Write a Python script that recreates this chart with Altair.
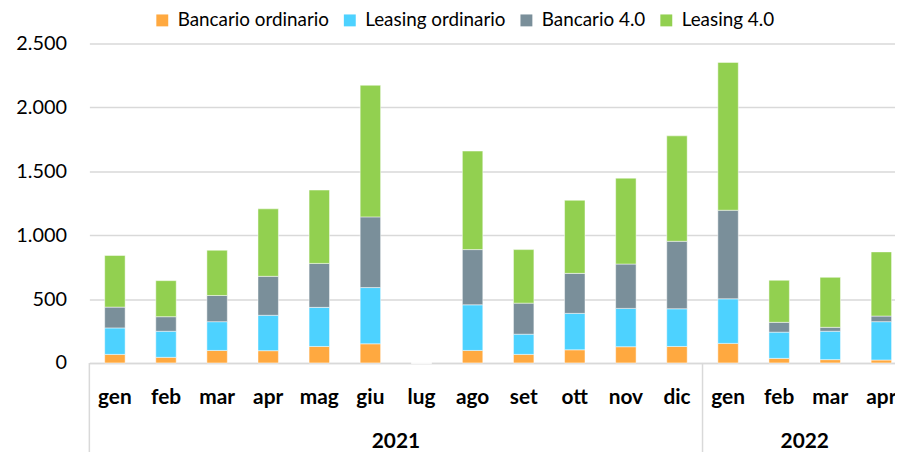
import altair as alt
import pandas as pd

# ---- data ----
months = ["gen", "feb", "mar", "apr", "mag", "giu", "lug", "ago", "set", "ott", "nov", "dic",
          "gen", "feb", "mar", "apr"]
years = [2021] * 12 + [2022] * 4
series = ["Bancario ordinario", "Leasing ordinario", "Bancario 4.0", "Leasing 4.0"]
bancario_ord = [67, 44, 98, 96, 129, 150, 0, 98, 67, 103, 127, 129, 153, 36, 26, 23]
leasing_ord = [207, 204, 225, 277, 306, 440, 0, 357, 158, 285, 300, 295, 349, 205, 222, 300]
bancario_40 = [163, 114, 205, 305, 344, 553, 0, 432, 243, 313, 347, 528, 693, 77, 31, 44]
leasing_40 = [404, 282, 354, 528, 574, 1030, 0, 771, 419, 572, 672, 825, 1157, 329, 391, 502]
y_ticks = [0, 500, 1000, 1500, 2000, 2500]
year_labels = ["2021", "2022"]

colors = ["#FFA940", "#4DD2FF", "#7A8F9A", "#92D050"]
FONT = "Lato"

keys = [f"{y}-{m}" for y, m in zip(years, months)]
values = [bancario_ord, leasing_ord, bancario_40, leasing_40]
rows = []
for i, k in enumerate(keys):
    for j, s in enumerate(series):
        rows.append({"key": k, "serie": s, "valore": values[j][i], "ordine": j})
df = pd.DataFrame(rows)

# separators at the first month of each year; year labels centred on the group
sep_df = pd.DataFrame({"key": [keys[0], keys[12]]})
year_df = pd.DataFrame({"key": [keys[6], keys[14]], "anno": year_labels})

W, H = 812, 322
STEP = 51.5
xscale = alt.Scale(domain=keys, range=[0, STEP * 16], paddingInner=0.6, paddingOuter=0.3)
OFF = -0.3 * STEP

x_axis = alt.Axis(title=None, labelExpr="split(datum.value, '-')[1]", labelFont=FONT,
                  labelFontSize=21, labelFontWeight="bold", labelColor="black",
                  labelPadding=24, ticks=False, domainColor="#D9D9D9", domainWidth=1.5,
                  labelAngle=0, grid=False, labelOverlap=False)

bars = alt.Chart(df).mark_bar(stroke="white", strokeWidth=0.8, strokeOpacity=0.6).encode(
    x=alt.X("key:N", scale=xscale, axis=x_axis),
    y=alt.Y("valore:Q", stack="zero", scale=alt.Scale(domain=[0, 2500], nice=False),
            axis=alt.Axis(title=None, values=y_ticks,
                          labelExpr="replace(format(datum.value, ','), ',', '.')",
                          gridColor="#D9D9D9", gridWidth=1.5, domain=False, ticks=False,
                          labelPadding=23, labelFont=FONT, labelFontSize=20, labelColor="black")),
    color=alt.Color("serie:N", scale=alt.Scale(domain=series, range=colors),
                    legend=alt.Legend(title=None, orient="none", legendX=64, legendY=-33,
                                      direction="horizontal", columns=4, symbolType="square",
                                      symbolSize=144, symbolStrokeWidth=0, labelFont=FONT,
                                      labelFontSize=19, labelColor="black", columnPadding=11,
                                      labelOffset=6, padding=0, labelLimit=300)),
    order=alt.Order("ordine:Q", sort="ascending"),
)

rules = alt.Chart(sep_df).mark_rule(color="#D9D9D9", strokeWidth=1.5, xOffset=OFF).encode(
    x=alt.X("key:N", bandPosition=0, scale=xscale, axis=x_axis),
    y=alt.value(H),
    y2=alt.value(H + 120),
)

year_text = alt.Chart(year_df).mark_text(
    xOffset=OFF, font=FONT, fontSize=21, fontWeight="bold", color="black",
    baseline="middle", align="center"
).encode(
    x=alt.X("key:N", bandPosition=0, scale=xscale, axis=x_axis),
    y=alt.value(H + 80),
    text="anno:N",
)

chart = alt.layer(bars, rules, year_text).properties(
    width=W, height=H, autosize="none",
    padding={"left": 82, "top": 34, "right": 0, "bottom": 88},
    background="white",
).configure_view(stroke=None)

chart.save("out.html", embed_options={"renderer": "svg", "actions": False})
